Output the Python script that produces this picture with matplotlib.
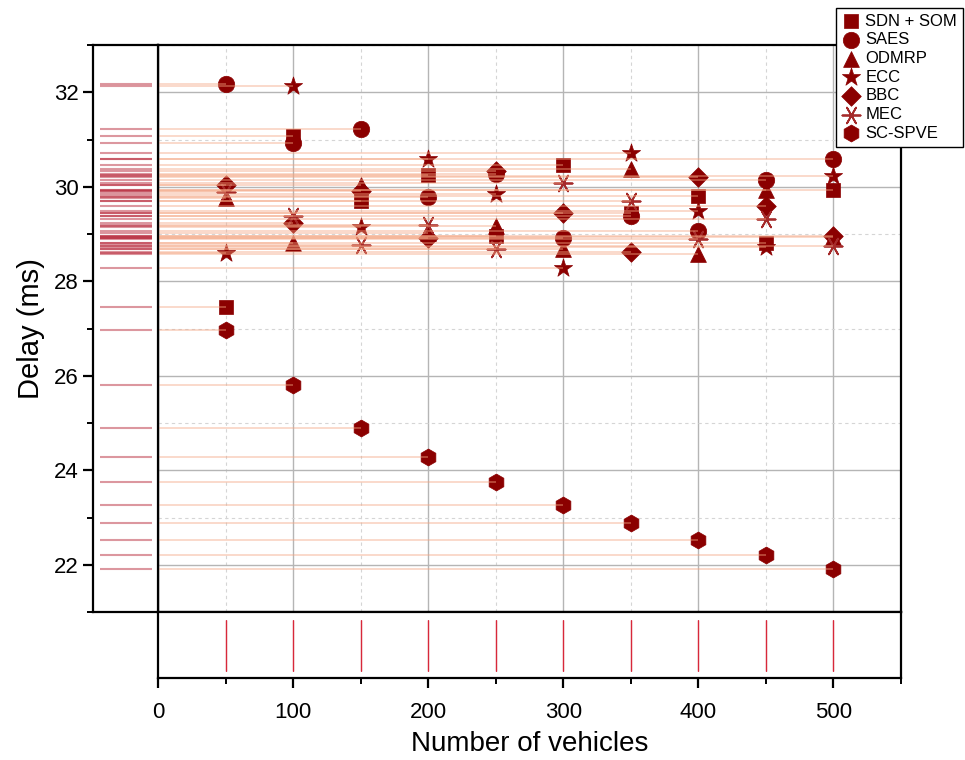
import matplotlib
matplotlib.use("Agg")
import matplotlib.pyplot as plt
from matplotlib.ticker import MultipleLocator

plt.rcParams['font.family'] = ['Liberation Sans', 'DejaVu Sans']

vehicles = [50, 100, 150, 200, 250, 300, 350, 400, 450, 500]
sdn_som = [27.45, 31.07, 29.70, 30.24, 28.95, 30.47, 29.45, 29.80, 28.82, 29.94]
saes = [32.17, 30.93, 31.23, 29.79, 30.27, 28.92, 29.38, 29.06, 30.15, 30.59]
odmrp = [29.77, 28.82, 30.04, 29.03, 29.17, 28.68, 30.38, 28.57, 29.94, 28.93]
ecc = [28.60, 32.14, 29.14, 30.58, 29.85, 28.29, 30.72, 29.49, 28.72, 30.22]
bbc = [30.03, 29.23, 29.92, 28.92, 30.33, 29.45, 28.61, 30.21, 29.60, 28.96]
mec = [29.88, 29.38, 28.76, 29.20, 28.68, 30.08, 29.70, 28.89, 29.31, 28.75]
sc_spve = [26.97, 25.81, 24.90, 24.27, 23.75, 23.27, 22.88, 22.52, 22.20, 21.92]

series_names = ["SDN + SOM", "SAES", "ODMRP", "ECC", "BBC", "MEC", "SC-SPVE"]
series_vals = [sdn_som, saes, odmrp, ecc, bbc, mec, sc_spve]
markers = ['s', 'o', '^', '*', 'D', (6, 2, 90), 'h']
sizes = [110, 140, 130, 190, 100, 170, 150]

W, H = 965, 760
fig = plt.figure(figsize=(W / 100, H / 100), dpi=100)

def fx(px):
    return px / W

def fy(py):
    return 1 - py / H

main_l, main_r, main_t, main_b = 158, 901, 45, 612
left_l = 93
bot_b = 678

ax = fig.add_axes([fx(main_l), fy(main_b), fx(main_r - main_l), (main_b - main_t) / H])
axl = fig.add_axes([fx(left_l), fy(main_b), fx(main_l - left_l), (main_b - main_t) / H], sharey=ax)
axb = fig.add_axes([fx(main_l), fy(bot_b), fx(main_r - main_l), (bot_b - main_b) / H], sharex=ax)

dark = '#8b0000'
for name, vals, m, s in zip(series_names, series_vals, markers, sizes):
    if name == "MEC":
        ax.scatter(vehicles, vals, marker=m, s=s, color='#a52a2a', linewidths=1.3,
                   zorder=3, label=name)
    else:
        ax.scatter(vehicles, vals, marker=m, s=s, color=dark, edgecolors=dark,
                   linewidths=0.5, zorder=3, label=name)
    ax.hlines(vals, 0, vehicles, color='#f4a582', alpha=0.45, lw=1.3, zorder=4)
    axl.hlines(vals, 0.1, 0.9, color='#b2182b', alpha=0.45, lw=1.5)
    axb.vlines(vehicles, 0.1, 0.88, color='#d8283a', alpha=0.55, lw=0.8)

ax.set_xlim(0, 550)
ax.set_ylim(21, 33)
ax.xaxis.set_major_locator(MultipleLocator(100))
ax.xaxis.set_minor_locator(MultipleLocator(50))
ax.yaxis.set_major_locator(MultipleLocator(2))
ax.yaxis.set_minor_locator(MultipleLocator(1))
ax.grid(True, which='major', color='#b5b5b5', lw=1.0, zorder=0)
ax.grid(True, which='minor', color='#d5d5d5', lw=0.8, ls=(0, (3, 3)), zorder=0)
ax.set_axisbelow(True)
ax.tick_params(which='both', left=False, bottom=False, labelleft=False, labelbottom=False)
for sp in ax.spines.values():
    sp.set_linewidth(1.6)

axl.set_xlim(0, 1)
axl.tick_params(axis='x', which='both', bottom=False, labelbottom=False)
axl.tick_params(axis='y', which='major', length=7, width=1.6, labelsize=16, direction='out')
axl.tick_params(axis='y', which='minor', length=4, width=1.4, direction='out')
for sp in axl.spines.values():
    sp.set_linewidth(1.6)
axl.set_ylabel("Delay (ms)", fontsize=21, labelpad=6)

axb.set_ylim(0, 1)
axb.tick_params(axis='y', which='both', left=False, labelleft=False)
axb.tick_params(axis='x', which='major', length=7, width=1.6, labelsize=16, direction='out', pad=10)
axb.tick_params(axis='x', which='minor', length=4, width=1.4, direction='out')
for sp in axb.spines.values():
    sp.set_linewidth(1.6)
axb.set_xlabel("Number of vehicles", fontsize=20, labelpad=6)

handles, labels = ax.get_legend_handles_labels()
leg = fig.legend(handles, labels, loc='upper left', bbox_to_anchor=(fx(836), fy(8)),
                 borderaxespad=0, fontsize=12, frameon=True, fancybox=False,
                 edgecolor='black', framealpha=1, labelspacing=0.22,
                 handletextpad=0.3, borderpad=0.35, markerscale=1.0,
                 handlelength=1.1)
leg.get_frame().set_linewidth(1.0)

fig.savefig("out.png", dpi=100)
